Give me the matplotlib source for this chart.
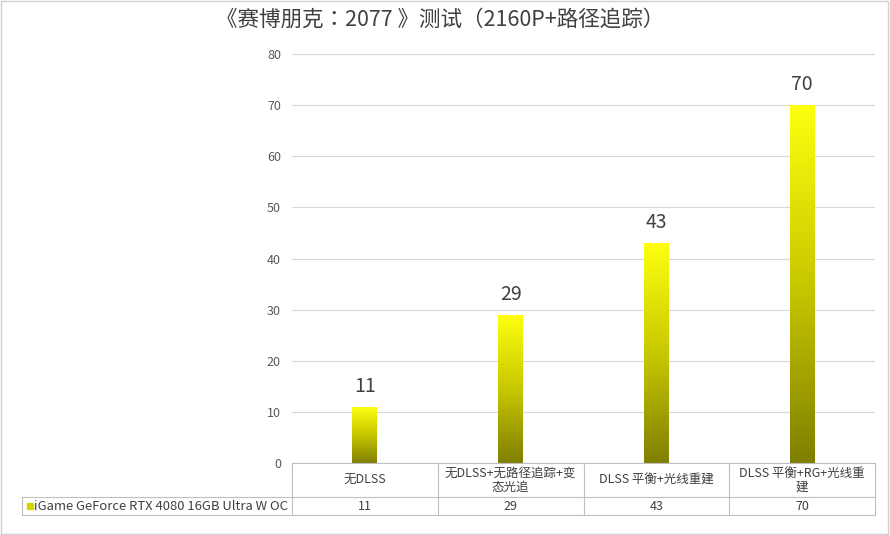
import matplotlib
matplotlib.use("Agg")
import matplotlib.pyplot as plt
import numpy as np
from matplotlib.lines import Line2D
from matplotlib import font_manager as fm

cands = [f for f in fm.findSystemFonts() if "cjk" in f.lower()]
fam = None
for f in cands:
    try:
        fm.fontManager.addfont(f)
        name = fm.FontProperties(fname=f).get_name()
        if fam is None or "SC" in name:
            fam = name
    except Exception:
        pass
plt.rcParams['font.family'] = [fam or 'Noto Sans CJK SC', 'DejaVu Sans']

title = "《赛博朋克：2077 》测试（2160P+路径追踪）"
categories = ["无DLSS", "无DLSS+无路径追踪+变\n态光追", "DLSS 平衡+光线重建", "DLSS 平衡+RG+光线重\n建"]
series_name = "iGame GeForce RTX 4080 16GB Ultra W OC"
values = [11, 29, 43, 70]
yticks = [0, 10, 20, 30, 40, 50, 60, 70, 80]

W, H = 890, 535
fig = plt.figure(figsize=(W/100, H/100), dpi=100)
fig.patch.set_facecolor("white")
def fx(px): return px / W
def fy(py): return 1 - py / H

L, R, T, B = 292, 875, 54, 463
ax = fig.add_axes([fx(L), fy(B), fx(R) - fx(L), fy(T) - fy(B)])
ax.set_yticks(yticks)
ax.tick_params(axis='y', length=0, labelsize=9, colors="#595959", pad=8)
ax.set_xticks([])
for s in ax.spines.values():
    s.set_visible(False)
ax.grid(axis='y', color="#d9d9d9", linewidth=0.8)
ax.set_axisbelow(True)

grad = np.linspace(0, 1, 256).reshape(-1, 1)
from matplotlib.colors import LinearSegmentedColormap
cmap = LinearSegmentedColormap.from_list("g", ["#7f7f00", "#c8c800", "#ffff10"])
bw = 0.17
for i, v in enumerate(values):
    x0 = i + 0.5 - bw / 2
    bar = ax.bar(i + 0.5, v, width=bw, color="none", zorder=2)[0]
    im = ax.imshow(grad, extent=[x0, x0 + bw, 0, v], origin="lower", aspect="auto",
                   cmap=cmap, zorder=2)
    im.set_clip_path(bar)
    ax.text(i + 0.5, v + 2, str(v), ha="center", va="bottom", fontsize=14, color="#404040")
ax.set_xlim(0, len(values))
ax.set_ylim(0, 80)

fig.text(0.495, fy(20), title, ha="center", va="center", fontsize=15.5, color="#404040")

lc = "#bfbfbf"
def line(x1, y1, x2, y2):
    fig.add_artist(Line2D([fx(x1), fx(x2)], [fy(y1), fy(y2)], color=lc, linewidth=0.8))
cw = (R - L) / len(values)
line(L, B, R, B)
line(22, 497, R, 497)
line(22, 515, R, 515)
line(22, 497, 22, 515)
for i in range(len(values) + 1):
    line(L + i * cw, B, L + i * cw, 515)
for i, (c, v) in enumerate(zip(categories, values)):
    cx = L + (i + 0.5) * cw
    fig.text(fx(cx), fy(480), c, ha="center", va="center", fontsize=9, color="#404040", linespacing=1.1)
    fig.text(fx(cx), fy(506), str(v), ha="center", va="center", fontsize=9, color="#404040")
fig.add_artist(plt.Rectangle((fx(27), fy(509)), fx(6), fy(503) - fy(509), color="#d4d400"))
fig.text(fx(34), fy(506), series_name, ha="left", va="center", fontsize=9.4, color="#404040")
fig.add_artist(plt.Rectangle((0.001, 0.001), 0.997, 0.997, fill=False, edgecolor="#d0d0d0", linewidth=1))

fig.savefig("out.png", dpi=100)
